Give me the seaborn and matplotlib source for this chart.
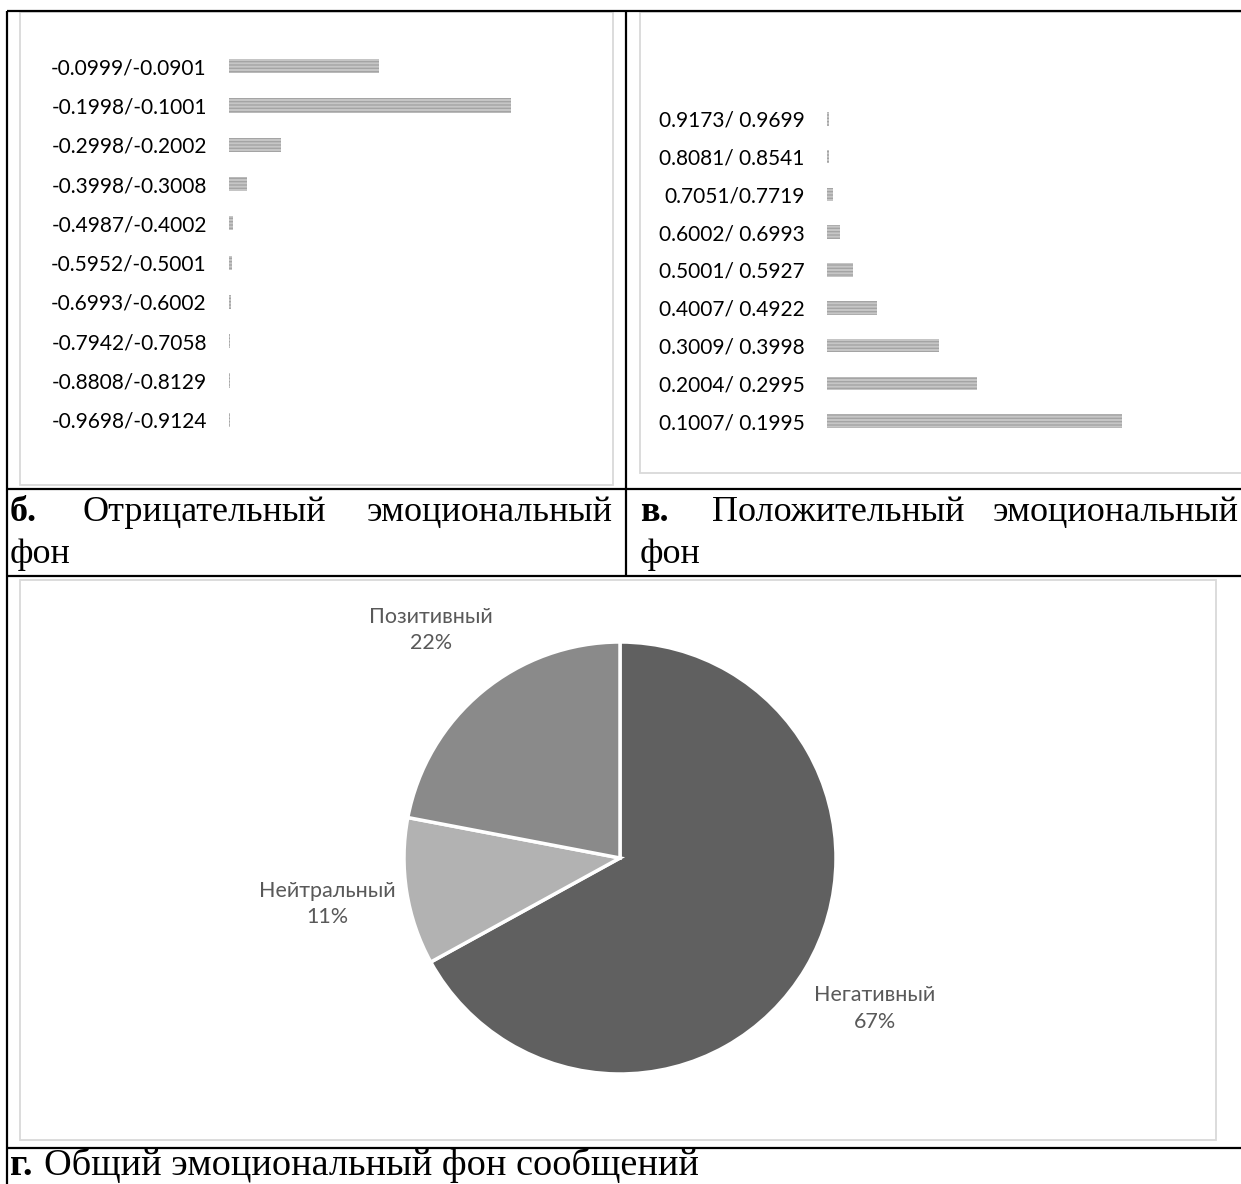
import matplotlib
matplotlib.use("Agg")
import numpy as np
import pandas as pd
import matplotlib.pyplot as plt
import seaborn as sns
from matplotlib.patches import Rectangle

# данные: отрицательный фон
neg_labels = ['-0.0999/-0.0901', '-0.1998/-0.1001', '-0.2998/-0.2002',
              '-0.3998/-0.3008', '-0.4987/-0.4002', '-0.5952/-0.5001',
              '-0.6993/-0.6002', '-0.7942/-0.7058', '-0.8808/-0.8129',
              '-0.9698/-0.9124']
neg_values = [150, 282, 52, 18, 4, 3.5, 2, 1.2, 1, 1]

# положительный фон
pos_labels = ['0.9173/ 0.9699', '0.8081/ 0.8541', '0.7051/0.7719',
              '0.6002/ 0.6993', '0.5001/ 0.5927', '0.4007/ 0.4922',
              '0.3009/ 0.3998', '0.2004/ 0.2995', '0.1007/ 0.1995']
pos_values = [2, 2, 6, 13, 26, 50, 112, 150, 295]

# общий фон
pie_labels = ['Негативный', 'Нейтральный', 'Позитивный']
pie_shares = [67, 11, 22]
pie_colors = ['#606060', '#b2b2b2', '#8a8a8a']

W, H = 1241, 1184

sns.set_style('white')
plt.rcParams['font.family'] = ['Lato', 'DejaVu Sans']
plt.rcParams['hatch.linewidth'] = 1.0

fig = plt.figure(figsize=(W / 100, H / 100), dpi=100)


def px_rect(x0, y0, x1, y1):
    return [x0 / W, 1 - y1 / H, (x1 - x0) / W, (y1 - y0) / H]


# фон: рамки таблицы и подписи
bg = fig.add_axes([0, 0, 1, 1])
bg.set_xlim(0, W)
bg.set_ylim(H, 0)
bg.axis('off')

black = dict(color='black', lw=1.6, solid_capstyle='butt')
bg.plot([7, W], [11, 11], **black)
bg.plot([7, 7], [11, H], **black)
bg.plot([626, 626], [11, 576], **black)
bg.plot([7, W], [489, 489], **black)
bg.plot([7, W], [576, 576], **black)
bg.plot([7, W], [1148, 1148], **black)

frame = dict(fill=False, edgecolor='#d9d9d9', lw=1.3)
bg.add_patch(Rectangle((20, 12), 593, 473, **frame))
bg.add_patch(Rectangle((640, 12), 620, 461, **frame))
bg.add_patch(Rectangle((20, 580), 1196, 560, **frame))

serif = ['Liberation Serif', 'DejaVu Serif']
cap = dict(fontsize=26, family=serif, va='baseline', color='black')
bg.text(10, 521, 'б.', ha='left', weight='bold', **cap)
bg.text(83, 521, 'Отрицательный', ha='left', **cap)
bg.text(613, 521, 'эмоциональный', ha='right', **cap)
bg.text(10, 563, 'фон', ha='left', **cap)
bg.text(640, 521, 'в.', ha='left', weight='bold', **cap)
bg.text(712, 521, 'Положительный', ha='left', **cap)
bg.text(1239, 521, 'эмоциональный', ha='right', **cap)
bg.text(640, 563, 'фон', ha='left', **cap)
cap2 = dict(cap, fontsize=27.5)
bg.text(10, 1175, 'г.', ha='left', weight='bold', **cap2)
bg.text(44, 1175, 'Общий эмоциональный фон сообщений', ha='left', **cap2)


def bar_panel(rect, labels, values, xmax):
    ax = fig.add_axes(rect)
    df = pd.DataFrame({'range': labels, 'value': values})
    # штриховка рисуется цветом edgecolor
    sns.barplot(data=df, x='value', y='range', ax=ax, color='#c6c6c6',
                saturation=1, width=0.36, linewidth=0, edgecolor='#a4a4a4',
                hatch='-----')
    ax.set_xlim(0, xmax)
    ax.set_xlabel('')
    ax.set_ylabel('')
    ax.set_xticks([])
    sns.despine(ax=ax, left=True, bottom=True)
    ax.tick_params(axis='y', length=0, pad=16, labelsize=15, labelcolor='black')
    ax.patch.set_alpha(0)
    return ax


bar_panel(px_rect(229, 46.5, 612, 439.5), neg_labels, neg_values, 383)
bar_panel(px_rect(827, 100, 1241, 440), pos_labels, pos_values, 414)

# круговая диаграмма
cx, cy, r = 620, 858, 216
ax = fig.add_axes(px_rect(cx - r, cy - r, cx + r, cy + r))
wedges, texts = ax.pie(
    pie_shares,
    labels=[f'{n}\n{s}%' for n, s in zip(pie_labels, pie_shares)],
    colors=pie_colors, startangle=90, counterclock=False,
    labeldistance=1.37,
    wedgeprops=dict(edgecolor='white', linewidth=2.5),
)
for t in texts:
    t.set_ha('center')
    t.set_va('center')
    t.set_color('#595959')
    t.set_fontsize(15.5)
    t.set_linespacing(1.4)
ax.set_xlim(-1, 1)
ax.set_ylim(-1, 1)
ax.set_aspect('equal')

fig.savefig('out.png', dpi=100)
